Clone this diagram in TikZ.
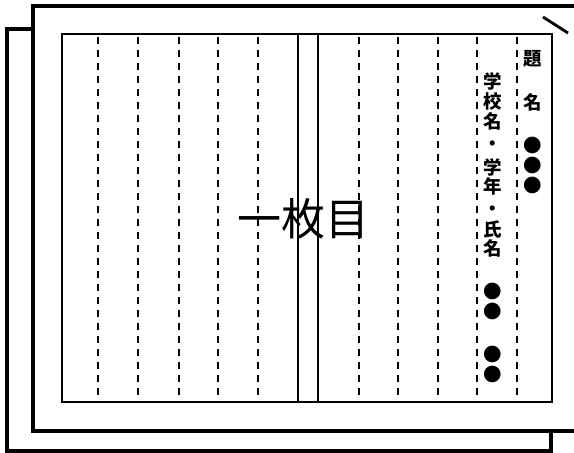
\documentclass[tikz,border=0pt]{standalone}
\usepackage{fontspec}
\newfontfamily\cjk{Noto Sans CJK JP}
\newfontfamily\cjkb{Noto Sans CJK JP Black}
\tikzset{
  backpage/.style={line width=3.2pt},
  frontpage/.style={line width=3.8pt},
  innerframe/.style={line width=2.4pt},
  centerline/.style={line width=1.8pt},
  ruleline/.style={line width=2.2pt, dash pattern=on 7pt off 6pt},
  vchar/.style={inner sep=0pt, font=\cjkb\fontsize{18.5}{18.5}\selectfont},
  bigtitle/.style={inner sep=0pt, font=\cjk\fontsize{44}{44}\selectfont}
}
\begin{document}
\begin{tikzpicture}[x=1pt,y=-1pt]
\useasboundingbox (0,0) rectangle (574,453);
% back page
\draw[backpage] (33,29) -- (7,29) -- (7,451) -- (551,451) -- (551,431);
% front page
\fill[white] (33,6) rectangle (580,431);
\draw[frontpage] (576,6) -- (33,6) -- (33,431) -- (576,431);
\draw[line width=2.8pt] (543,17) -- (568,33);
% inner frame
\draw[innerframe] (62,34) rectangle (552,402);
% center double line
\draw[centerline] (298,34) -- (298,402);
\draw[centerline] (318,34) -- (318,402);
% dashed rules
\foreach \x in {98,138,179,218,258,359,398,438,477,517}{
  \draw[ruleline] (\x,37) -- (\x,395);
}
% title
\node[bigtitle] (t) at (303,219) {一枚目};
% right column
\node[vchar] (a1) at (533,59) {題};
\node[vchar] (a2) at (533,102) {名};
\node[vchar] (a3) at (533,145) {●};
\node[vchar] (a4) at (533,165) {●};
\node[vchar] (a5) at (533,185) {●};
% second column
\foreach \c/\y [count=\i] in {学/81,校/101,名/121,・/146,学/167,年/186,・/211,氏/229,名/248,●/291,●/311,●/354,●/374}{
  \node[vchar] (b\i) at (493,\y) {\c};
}
\end{tikzpicture}
\end{document}
